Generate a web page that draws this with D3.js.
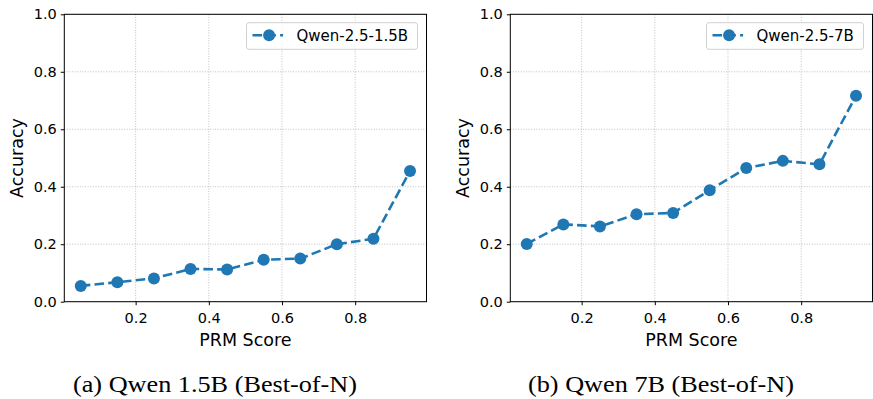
<!DOCTYPE html>
<html>
<head>
<meta charset="utf-8">
<script src="https://cdn.jsdelivr.net/npm/d3@7"></script>
<style>
  body { margin: 0; background: #fff; }
  svg text { font-family: "DejaVu Sans", sans-serif; fill: #000; }
  .axis path, .axis line { stroke: #000; }
  .grid line { stroke: #b0b0b0; stroke-dasharray: 1,1.6; stroke-width: 0.8; }
  svg text.caption { font-family: "Liberation Serif", serif; }
</style>
</head>
<body>
<svg id="chart" width="873" height="399"></svg>
<script>
// data
var prmScores = [0.05, 0.15, 0.25, 0.35, 0.45, 0.55, 0.65, 0.75, 0.85, 0.95];
var acc15B = [0.055, 0.068, 0.081, 0.114, 0.112, 0.146, 0.150, 0.200, 0.219, 0.455];
var acc7B = [0.201, 0.269, 0.262, 0.304, 0.309, 0.388, 0.465, 0.490, 0.478, 0.717];
var seriesNames = ["Qwen-2.5-1.5B", "Qwen-2.5-7B"];
var captions = ["(a) Qwen 1.5B (Best-of-N)", "(b) Qwen 7B (Best-of-N)"];
var xTicks = [0.2, 0.4, 0.6, 0.8];
var yTicks = [0, 0.2, 0.4, 0.6, 0.8, 1.0];

var color = "#1f77b4";
var svg = d3.select("#chart");

// panel layout
var panels = [
  { left: 64.3, values: acc15B, name: seriesNames[0], caption: captions[0], labelX: 17, capX: 215, capW: 284 },
  { left: 510.3, values: acc7B, name: seriesNames[1], caption: captions[1], labelX: 463, capX: 661, capW: 266 }
];
var plotW = 362.2, plotTop = 14.3, plotH = 287.4;

panels.forEach(function(p) {
  var x = d3.scaleLinear().domain([0.005, 0.995]).range([p.left, p.left + plotW]);
  var y = d3.scaleLinear().domain([0, 1]).range([plotTop + plotH, plotTop]);
  var g = svg.append("g");

  // grid
  var grid = g.append("g").attr("class", "grid");
  grid.selectAll(".gx").data(xTicks).enter().append("line")
    .attr("x1", function(d){ return x(d); }).attr("x2", function(d){ return x(d); })
    .attr("y1", plotTop).attr("y2", plotTop + plotH);
  grid.selectAll(".gy").data(yTicks).enter().append("line")
    .attr("x1", p.left).attr("x2", p.left + plotW)
    .attr("y1", function(d){ return y(d); }).attr("y2", function(d){ return y(d); });

  // axes
  var xAxis = d3.axisBottom(x).tickValues(xTicks).tickFormat(d3.format(".1f")).tickSize(3.5).tickPadding(4);
  var yAxis = d3.axisLeft(y).tickValues(yTicks).tickFormat(d3.format(".1f")).tickSize(3.5).tickPadding(4);
  g.append("g").attr("class", "axis")
    .attr("transform", "translate(0," + (plotTop + plotH) + ")")
    .call(xAxis)
    .call(function(a){ a.select(".domain").remove(); a.selectAll("text").style("font-size", "14.5px").attr("dy", "0.95em"); });
  g.append("g").attr("class", "axis")
    .attr("transform", "translate(" + p.left + ",0)")
    .call(yAxis)
    .call(function(a){ a.select(".domain").remove(); a.selectAll("text").style("font-size", "14.5px"); });

  // frame
  g.append("rect")
    .attr("x", p.left).attr("y", plotTop).attr("width", plotW).attr("height", plotH)
    .attr("fill", "none").attr("stroke", "#000").attr("stroke-width", 1);

  // labels
  g.append("text").attr("x", p.left + plotW / 2).attr("y", 345.5)
    .attr("text-anchor", "middle").style("font-size", "17.5px").text("PRM Score");
  g.append("text")
    .attr("transform", "translate(" + (p.labelX + 6) + "," + (plotTop + plotH / 2) + ") rotate(-90)")
    .attr("text-anchor", "middle").style("font-size", "17.5px").text("Accuracy");

  // line + markers
  var pts = prmScores.map(function(s, i){ return [s, p.values[i]]; });
  var line = d3.line().x(function(d){ return x(d[0]); }).y(function(d){ return y(d[1]); });
  g.append("path").datum(pts).attr("d", line)
    .attr("fill", "none").attr("stroke", color).attr("stroke-width", 2.6)
    .attr("stroke-dasharray", "9.6,4.2");
  g.selectAll(".dot").data(pts).enter().append("circle")
    .attr("cx", function(d){ return x(d[0]); }).attr("cy", function(d){ return y(d[1]); })
    .attr("r", 6).attr("fill", color);

  // legend (top right)
  var legW = p.name.length > 12 ? 171 : 157;
  var lx = p.left + plotW - 9 - legW, ly = 22.7;
  var leg = g.append("g");
  leg.append("rect").attr("x", lx).attr("y", ly).attr("width", legW).attr("height", 26.6)
    .attr("rx", 2.5).attr("fill", "#fff").attr("fill-opacity", 0.8)
    .attr("stroke", "#d0d0d0").attr("stroke-width", 1);
  leg.append("line").attr("x1", lx + 6).attr("x2", lx + 36.6)
    .attr("y1", ly + 12.6).attr("y2", ly + 12.6)
    .attr("stroke", color).attr("stroke-width", 2.6).attr("stroke-dasharray", "9.6,4.2");
  leg.append("circle").attr("cx", lx + 22.6).attr("cy", ly + 12.6).attr("r", 6).attr("fill", color);
  leg.append("text").attr("x", lx + 50).attr("y", ly + 18)
    .style("font-size", "15px").text(p.name);

  // caption (serif, stretched a little to the width of the original)
  svg.append("text").attr("class", "caption")
    .attr("x", p.capX).attr("y", 391.5)
    .attr("text-anchor", "middle").style("font-size", "23px")
    .attr("textLength", p.capW).attr("lengthAdjust", "spacingAndGlyphs")
    .text(p.caption);
});
</script>
</body>
</html>
